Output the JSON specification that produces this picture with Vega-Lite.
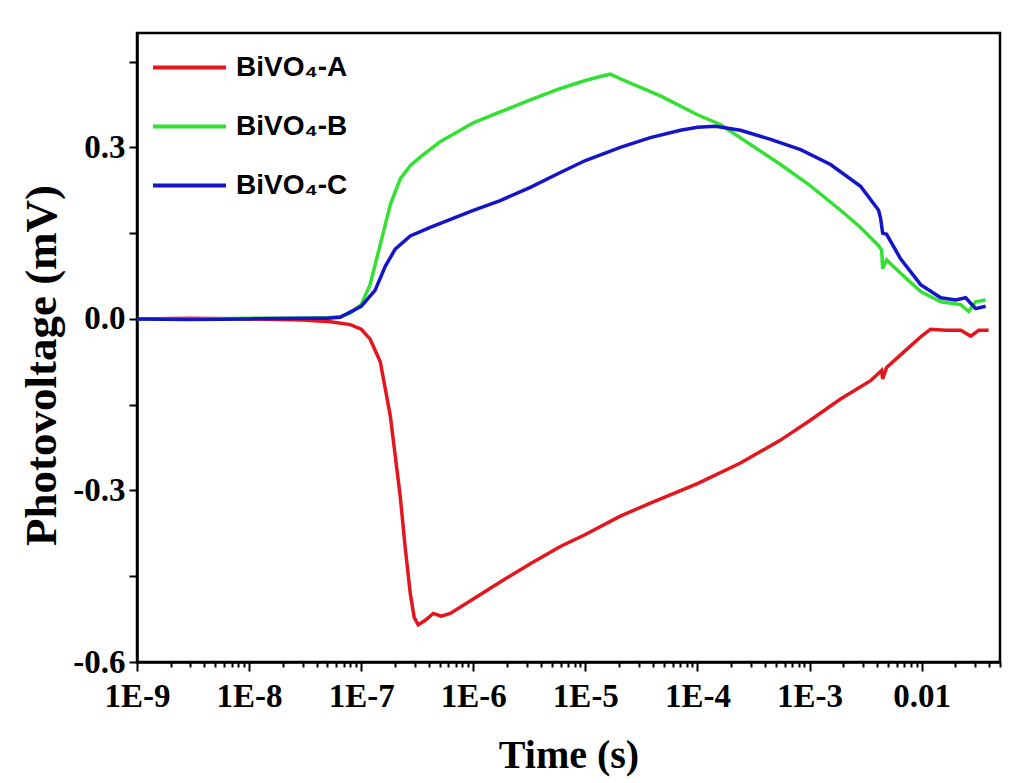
{
  "$schema": "https://vega.github.io/schema/vega-lite/v6.json",
  "width": 863,
  "height": 629,
  "autosize": {"type": "none"},
  "padding": {"left": 137, "top": 33, "right": 10, "bottom": 121},
  "background": "white",
  "data": {"values": [
    {"s": "BiVO₄-A", "t": 1e-9, "v": 0},
    {"s": "BiVO₄-A", "t": 3e-9, "v": 0.001},
    {"s": "BiVO₄-A", "t": 1e-8, "v": 0},
    {"s": "BiVO₄-A", "t": 3e-8, "v": -0.002},
    {"s": "BiVO₄-A", "t": 5.3e-8, "v": -0.005},
    {"s": "BiVO₄-A", "t": 8e-8, "v": -0.01},
    {"s": "BiVO₄-A", "t": 1e-7, "v": -0.018},
    {"s": "BiVO₄-A", "t": 1.2e-7, "v": -0.035},
    {"s": "BiVO₄-A", "t": 1.48e-7, "v": -0.075},
    {"s": "BiVO₄-A", "t": 1.82e-7, "v": -0.17},
    {"s": "BiVO₄-A", "t": 2.23e-7, "v": -0.31},
    {"s": "BiVO₄-A", "t": 2.47e-7, "v": -0.40},
    {"s": "BiVO₄-A", "t": 2.74e-7, "v": -0.48},
    {"s": "BiVO₄-A", "t": 2.97e-7, "v": -0.522},
    {"s": "BiVO₄-A", "t": 3.23e-7, "v": -0.535},
    {"s": "BiVO₄-A", "t": 3.73e-7, "v": -0.527},
    {"s": "BiVO₄-A", "t": 4.39e-7, "v": -0.515},
    {"s": "BiVO₄-A", "t": 5.18e-7, "v": -0.52},
    {"s": "BiVO₄-A", "t": 6.23e-7, "v": -0.515},
    {"s": "BiVO₄-A", "t": 1e-6, "v": -0.49},
    {"s": "BiVO₄-A", "t": 1.74e-6, "v": -0.46},
    {"s": "BiVO₄-A", "t": 3.23e-6, "v": -0.428},
    {"s": "BiVO₄-A", "t": 5.98e-6, "v": -0.398},
    {"s": "BiVO₄-A", "t": 1e-5, "v": -0.377},
    {"s": "BiVO₄-A", "t": 2.05e-5, "v": -0.345},
    {"s": "BiVO₄-A", "t": 3.8e-5, "v": -0.322},
    {"s": "BiVO₄-A", "t": 1e-4, "v": -0.288},
    {"s": "BiVO₄-A", "t": 2.42e-4, "v": -0.252},
    {"s": "BiVO₄-A", "t": 5.51e-4, "v": -0.212},
    {"s": "BiVO₄-A", "t": 1e-3, "v": -0.178},
    {"s": "BiVO₄-A", "t": 1.89e-3, "v": -0.14},
    {"s": "BiVO₄-A", "t": 3.5e-3, "v": -0.108},
    {"s": "BiVO₄-A", "t": 4.13e-3, "v": -0.095},
    {"s": "BiVO₄-A", "t": 4.4e-3, "v": -0.09},
    {"s": "BiVO₄-A", "t": 4.49e-3, "v": -0.105},
    {"s": "BiVO₄-A", "t": 4.87e-3, "v": -0.085},
    {"s": "BiVO₄-A", "t": 7.19e-3, "v": -0.055},
    {"s": "BiVO₄-A", "t": 0.01, "v": -0.03},
    {"s": "BiVO₄-A", "t": 0.012, "v": -0.018},
    {"s": "BiVO₄-A", "t": 0.0164, "v": -0.02},
    {"s": "BiVO₄-A", "t": 0.0223, "v": -0.02},
    {"s": "BiVO₄-A", "t": 0.0274, "v": -0.03},
    {"s": "BiVO₄-A", "t": 0.0323, "v": -0.02},
    {"s": "BiVO₄-A", "t": 0.0396, "v": -0.02},

    {"s": "BiVO₄-B", "t": 1e-9, "v": 0},
    {"s": "BiVO₄-B", "t": 3e-9, "v": 0},
    {"s": "BiVO₄-B", "t": 1e-8, "v": 0.001},
    {"s": "BiVO₄-B", "t": 3e-8, "v": 0.001},
    {"s": "BiVO₄-B", "t": 5e-8, "v": 0.002},
    {"s": "BiVO₄-B", "t": 6.49e-8, "v": 0.004},
    {"s": "BiVO₄-B", "t": 7.98e-8, "v": 0.01},
    {"s": "BiVO₄-B", "t": 1e-7, "v": 0.025},
    {"s": "BiVO₄-B", "t": 1.2e-7, "v": 0.06},
    {"s": "BiVO₄-B", "t": 1.48e-7, "v": 0.13},
    {"s": "BiVO₄-B", "t": 1.82e-7, "v": 0.2},
    {"s": "BiVO₄-B", "t": 2.23e-7, "v": 0.245},
    {"s": "BiVO₄-B", "t": 2.74e-7, "v": 0.268},
    {"s": "BiVO₄-B", "t": 3.36e-7, "v": 0.283},
    {"s": "BiVO₄-B", "t": 5.07e-7, "v": 0.31},
    {"s": "BiVO₄-B", "t": 1e-6, "v": 0.343},
    {"s": "BiVO₄-B", "t": 1.74e-6, "v": 0.362},
    {"s": "BiVO₄-B", "t": 3.23e-6, "v": 0.383},
    {"s": "BiVO₄-B", "t": 5.98e-6, "v": 0.403},
    {"s": "BiVO₄-B", "t": 1e-5, "v": 0.417},
    {"s": "BiVO₄-B", "t": 1.36e-5, "v": 0.424},
    {"s": "BiVO₄-B", "t": 1.67e-5, "v": 0.428},
    {"s": "BiVO₄-B", "t": 2.05e-5, "v": 0.42},
    {"s": "BiVO₄-B", "t": 3.1e-5, "v": 0.405},
    {"s": "BiVO₄-B", "t": 4.67e-5, "v": 0.39},
    {"s": "BiVO₄-B", "t": 1e-4, "v": 0.357},
    {"s": "BiVO₄-B", "t": 1.6e-4, "v": 0.34},
    {"s": "BiVO₄-B", "t": 2.97e-4, "v": 0.305},
    {"s": "BiVO₄-B", "t": 5.51e-4, "v": 0.27},
    {"s": "BiVO₄-B", "t": 1e-3, "v": 0.234},
    {"s": "BiVO₄-B", "t": 1.89e-3, "v": 0.19},
    {"s": "BiVO₄-B", "t": 2.85e-3, "v": 0.16},
    {"s": "BiVO₄-B", "t": 4.13e-3, "v": 0.128},
    {"s": "BiVO₄-B", "t": 4.4e-3, "v": 0.12},
    {"s": "BiVO₄-B", "t": 4.49e-3, "v": 0.088},
    {"s": "BiVO₄-B", "t": 4.87e-3, "v": 0.103},
    {"s": "BiVO₄-B", "t": 6.49e-3, "v": 0.08},
    {"s": "BiVO₄-B", "t": 9.8e-3, "v": 0.048},
    {"s": "BiVO₄-B", "t": 0.0148, "v": 0.03},
    {"s": "BiVO₄-B", "t": 0.0223, "v": 0.025},
    {"s": "BiVO₄-B", "t": 0.0263, "v": 0.013},
    {"s": "BiVO₄-B", "t": 0.0303, "v": 0.03},
    {"s": "BiVO₄-B", "t": 0.0372, "v": 0.033},

    {"s": "BiVO₄-C", "t": 1e-9, "v": 0},
    {"s": "BiVO₄-C", "t": 3e-9, "v": -0.001},
    {"s": "BiVO₄-C", "t": 1e-8, "v": 0},
    {"s": "BiVO₄-C", "t": 3e-8, "v": 0.001},
    {"s": "BiVO₄-C", "t": 5e-8, "v": 0.001},
    {"s": "BiVO₄-C", "t": 6.49e-8, "v": 0.003},
    {"s": "BiVO₄-C", "t": 1e-7, "v": 0.022},
    {"s": "BiVO₄-C", "t": 1.33e-7, "v": 0.05},
    {"s": "BiVO₄-C", "t": 1.64e-7, "v": 0.092},
    {"s": "BiVO₄-C", "t": 2.01e-7, "v": 0.122},
    {"s": "BiVO₄-C", "t": 2.74e-7, "v": 0.145},
    {"s": "BiVO₄-C", "t": 4.13e-7, "v": 0.16},
    {"s": "BiVO₄-C", "t": 1e-6, "v": 0.19},
    {"s": "BiVO₄-C", "t": 1.74e-6, "v": 0.207},
    {"s": "BiVO₄-C", "t": 3.23e-6, "v": 0.23},
    {"s": "BiVO₄-C", "t": 5.98e-6, "v": 0.256},
    {"s": "BiVO₄-C", "t": 1e-5, "v": 0.277},
    {"s": "BiVO₄-C", "t": 2.05e-5, "v": 0.3},
    {"s": "BiVO₄-C", "t": 3.8e-5, "v": 0.317},
    {"s": "BiVO₄-C", "t": 7.05e-5, "v": 0.33},
    {"s": "BiVO₄-C", "t": 1e-4, "v": 0.335},
    {"s": "BiVO₄-C", "t": 1.45e-4, "v": 0.337},
    {"s": "BiVO₄-C", "t": 2.42e-4, "v": 0.33},
    {"s": "BiVO₄-C", "t": 4.49e-4, "v": 0.314},
    {"s": "BiVO₄-C", "t": 8.32e-4, "v": 0.296},
    {"s": "BiVO₄-C", "t": 1.54e-3, "v": 0.27},
    {"s": "BiVO₄-C", "t": 2.85e-3, "v": 0.232},
    {"s": "BiVO₄-C", "t": 4.13e-3, "v": 0.19},
    {"s": "BiVO₄-C", "t": 4.31e-3, "v": 0.175},
    {"s": "BiVO₄-C", "t": 4.49e-3, "v": 0.15},
    {"s": "BiVO₄-C", "t": 4.87e-3, "v": 0.148},
    {"s": "BiVO₄-C", "t": 6.49e-3, "v": 0.105},
    {"s": "BiVO₄-C", "t": 9.8e-3, "v": 0.06},
    {"s": "BiVO₄-C", "t": 0.0148, "v": 0.037},
    {"s": "BiVO₄-C", "t": 0.0201, "v": 0.033},
    {"s": "BiVO₄-C", "t": 0.0247, "v": 0.037},
    {"s": "BiVO₄-C", "t": 0.0303, "v": 0.018},
    {"s": "BiVO₄-C", "t": 0.0372, "v": 0.022}
  ]},
  "mark": {"type": "line", "strokeWidth": 3.5, "clip": true},
  "encoding": {
    "x": {
      "field": "t", "type": "quantitative", "title": "Time (s)",
      "scale": {"type": "log", "domain": [1e-9, 0.05], "nice": false},
      "axis": {
        "values": [1e-9,2e-9,3e-9,4e-9,5e-9,6e-9,7e-9,8e-9,9e-9,
                   1e-8,2e-8,3e-8,4e-8,5e-8,6e-8,7e-8,8e-8,9e-8,
                   1e-7,2e-7,3e-7,4e-7,5e-7,6e-7,7e-7,8e-7,9e-7,
                   1e-6,2e-6,3e-6,4e-6,5e-6,6e-6,7e-6,8e-6,9e-6,
                   1e-5,2e-5,3e-5,4e-5,5e-5,6e-5,7e-5,8e-5,9e-5,
                   1e-4,2e-4,3e-4,4e-4,5e-4,6e-4,7e-4,8e-4,9e-4,
                   1e-3,2e-3,3e-3,4e-3,5e-3,6e-3,7e-3,8e-3,9e-3,
                   1e-2,2e-2,3e-2,4e-2,5e-2],
        "labelExpr": "abs(log(datum.value)/LN10 - round(log(datum.value)/LN10)) < 0.001 ? (datum.value > 0.005 ? '0.01' : '1E' + round(log(datum.value)/LN10)) : ''",
        "tickSize": {"condition": {"test": "abs(log(datum.value)/LN10 - round(log(datum.value)/LN10)) < 0.001", "value": 9}, "value": 5},
        "labelOverlap": false,
        "labelFlush": false,
        "labelBound": false,
        "labelPadding": 9,
        "titlePadding": 22
      }
    },
    "y": {
      "field": "v", "type": "quantitative", "title": "Photovoltage (mV)",
      "scale": {"domain": [-0.6, 0.5], "nice": false, "zero": false},
      "axis": {
        "values": [-0.6, -0.45, -0.3, -0.15, 0, 0.15, 0.3, 0.45],
        "labelExpr": "abs(datum.value/0.3 - round(datum.value/0.3)) < 0.01 ? replace(format(datum.value, '.1f'), '−', '-') : ''",
        "tickSize": 8,
        "labelOverlap": false,
        "labelFlush": false,
        "labelPadding": 4,
        "titlePadding": 8,
        "titleFontSize": 45,
        "titleY": 332
      }
    },
    "color": {
      "field": "s", "type": "nominal",
      "scale": {"domain": ["BiVO₄-A", "BiVO₄-B", "BiVO₄-C"], "range": ["#E3161E", "#33E033", "#1515C8"]},
      "legend": {
        "title": null,
        "orient": "none",
        "legendX": 14,
        "legendY": -4,
        "padding": 0,
        "symbolType": "stroke",
        "symbolSize": 5329,
        "symbolStrokeWidth": 4,
        "labelFont": "Liberation Sans",
        "labelFontWeight": "bold",
        "labelFontSize": 28,
        "labelColor": "black",
        "labelOffset": 8,
        "rowPadding": 6,
        "fillColor": null,
        "strokeColor": null
      }
    }
  },
  "config": {
    "view": {"stroke": "black", "strokeWidth": 2.5},
    "axis": {
      "grid": false,
      "domainColor": "black",
      "domainWidth": 2.5,
      "tickColor": "black",
      "tickWidth": 2,
      "labelFont": "Liberation Serif",
      "labelFontWeight": "bold",
      "labelFontSize": 33,
      "labelColor": "black",
      "titleFont": "Liberation Serif",
      "titleFontWeight": "bold",
      "titleFontSize": 40,
      "titleColor": "black"
    }
  }
}
